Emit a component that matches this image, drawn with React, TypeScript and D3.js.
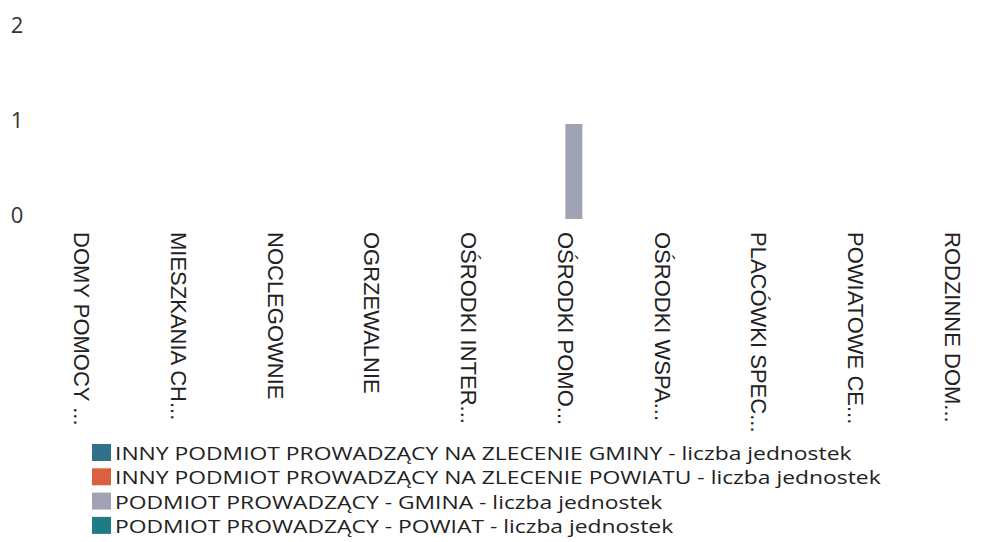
import React from "react";
import * as d3 from "d3";

const categories = [
  "DOMY POMOCY ...",
  "MIESZKANIA CH...",
  "NOCLEGOWNIE",
  "OGRZEWALNIE",
  "OŚRODKI INTER...",
  "OŚRODKI POMO...",
  "OŚRODKI WSPA...",
  "PLACÓWKI SPEC...",
  "POWIATOWE CE...",
  "RODZINNE DOM...",
];

const seriesNames = [
  "INNY PODMIOT PROWADZĄCY NA ZLECENIE GMINY - liczba jednostek",
  "INNY PODMIOT PROWADZĄCY NA ZLECENIE POWIATU - liczba jednostek",
  "PODMIOT PROWADZĄCY - GMINA - liczba jednostek",
  "PODMIOT PROWADZĄCY - POWIAT - liczba jednostek",
];

const seriesColors = ["#33708a", "#d9613f", "#9fa3b4", "#1f7b86"];

const innyGmina = [0, 0, 0, 0, 0, 0, 0, 0, 0, 0];
const innyPowiat = [0, 0, 0, 0, 0, 0, 0, 0, 0, 0];
const podmiotGmina = [0, 0, 0, 0, 0, 1, 0, 0, 0, 0];
const podmiotPowiat = [0, 0, 0, 0, 0, 0, 0, 0, 0, 0];

const seriesValues = [innyGmina, innyPowiat, podmiotGmina, podmiotPowiat];

const yTicks = [0, 1, 2];

const W = 996;
const H = 542;

export default function App() {
  const x = d3
    .scaleBand<string>()
    .domain(categories)
    .range([33.6, 1000.4])
    .paddingInner(0)
    .paddingOuter(0);
  const inner = d3
    .scaleBand<number>()
    .domain(d3.range(seriesNames.length))
    .range([0, 68]);
  const y = d3.scaleLinear().domain([0, 2]).range([219, 29]);

  const labelFont = "'Liberation Sans', Arial, sans-serif";
  const uiFont = "'Open Sans', 'Noto Sans', sans-serif";

  return (
    <svg
      width={W}
      height={H}
      style={{ position: "absolute", left: 0, top: 0, background: "#fff" }}
    >
      {yTicks.map((t) => (
        <text
          key={t}
          x={17}
          y={y(t) - 5}
          textAnchor="middle"
          dominantBaseline="central"
          fontFamily={uiFont}
          fontSize={22}
          fill="#333"
        >
          {t}
        </text>
      ))}

      {categories.map((c, ci) => {
        const gx = x(c)! + x.bandwidth() / 2 - 34;
        return (
          <g key={c}>
            {seriesValues.map((vals, si) =>
              vals[ci] > 0 ? (
                <rect
                  key={si}
                  x={gx + inner(si)!}
                  y={y(vals[ci])}
                  width={inner.bandwidth()}
                  height={y(0) - y(vals[ci])}
                  fill={seriesColors[si]}
                />
              ) : null
            )}
          </g>
        );
      })}

      {categories.map((c) => {
        const cx = x(c)! + x.bandwidth() / 2;
        return (
          <text
            key={c}
            transform={`translate(${cx},232) rotate(90)`}
            textAnchor="start"
            dominantBaseline="central"
            fontFamily={labelFont}
            fontSize={22}
            fill="#222"
          >
            {c}
          </text>
        );
      })}

      {seriesNames.map((s, i) => (
        <g key={s} transform={`translate(92,${444 + i * 24.3})`}>
          <rect width={19} height={17} fill={seriesColors[i]} />
          <g transform="translate(23,0) scale(1.27,1)">
            <text
              x={0}
              y={9}
              dominantBaseline="central"
              fontFamily={uiFont}
              fontSize={18}
              fill="#222"
            >
              {s}
            </text>
          </g>
        </g>
      ))}
    </svg>
  );
}
